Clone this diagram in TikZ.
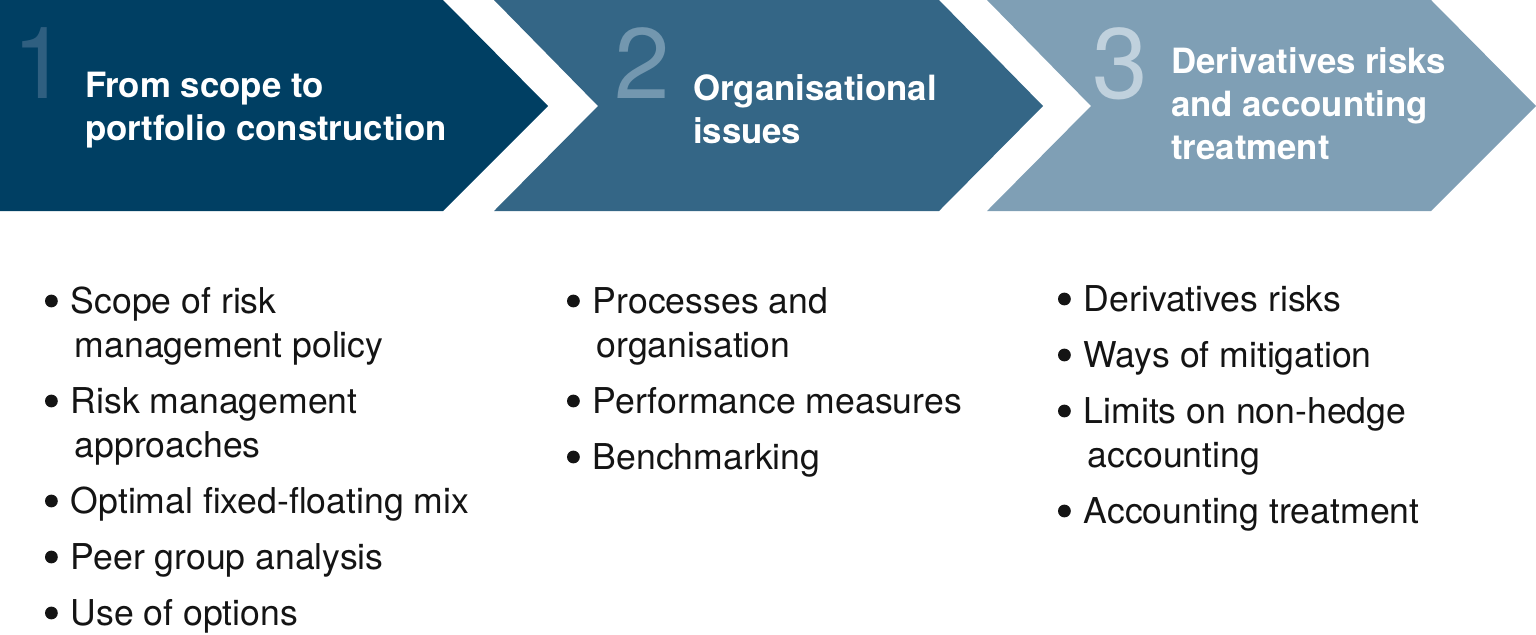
\documentclass[tikz,border=0pt]{standalone}
\usepackage{fontspec}
\setmainfont{TeX Gyre Heros}

\definecolor{stepA}{HTML}{003F63}
\definecolor{stepB}{HTML}{346686}
\definecolor{stepC}{HTML}{7F9FB5}
\definecolor{numA}{HTML}{2F5F80}
\definecolor{numB}{HTML}{7397AF}
\definecolor{numC}{HTML}{C0D1DD}
\definecolor{ink}{HTML}{141414}

\newcommand{\steplines}[1]{\begin{tabular}[t]{@{}l@{}}#1\end{tabular}}
\newcommand{\itemrows}[1]{\begin{tabular}[t]{@{}l@{\hspace{6.5pt}}l@{}}#1\end{tabular}}
\newcommand{\nx}{\hspace{2pt}}
\newcommand{\dotmark}{\tikz[baseline=0pt]\fill[ink] (0,6pt) circle (3.2pt);}

\begin{document}
\begin{tikzpicture}[
  x=0.5pt, y=-0.5pt,
  every node/.style={inner sep=0pt, outer sep=0pt},
  chevA/.style={fill=stepA, draw=none},
  chevB/.style={fill=stepB, draw=none},
  chevC/.style={fill=stepC, draw=none},
  num/.style={anchor=base west, font=\fontsize{50}{50}\selectfont},
  head/.style={anchor=base west, text=white, font=\fontsize{17.4}{21.5}\selectfont\bfseries},
  items/.style={anchor=base west, text=ink, font=\fontsize{17.8}{22}\selectfont}]

  \useasboundingbox (0,0) rectangle (1536,634);

  % ---- chevrons ------------------------------------------------------------
  \fill[chevA] (0,0) -- (443,0) -- (548,106) -- (443,211) -- (0,211) -- cycle;
  \fill[chevB] (494,0) -- (939,0) -- (1043,106) -- (939,211) -- (494,211)
               -- (598,106) -- cycle;
  \fill[chevC] (987,0) -- (1431,0) -- (1536,106) -- (1431,211) -- (987,211)
               -- (1091,106) -- cycle;

  % ---- step numbers and titles ---------------------------------------------
  \node[num, text=numA] (n1) at (12,98)   {1};
  \node[num, text=numB] (n2) at (614,98)  {2};
  \node[num, text=numC] (n3) at (1092,98) {3};

  \node[head] (h1) at (85,97)   {\steplines{From scope to\\portfolio construction}};
  \node[head] (h2) at (693,100) {\steplines{Organisational\\issues}};
  \node[head] (h3) at (1171,73) {\steplines{Derivatives risks\\and accounting\\treatment}};

  % ---- bullet lists --------------------------------------------------------
  \node[items] (l1) at (45,313) {\itemrows{%
    \dotmark & Scope of risk\\
             & \nx management policy\\[6pt]
    \dotmark & Risk management\\
             & \nx approaches\\[6pt]
    \dotmark & Optimal fixed-floating mix\\[6pt]
    \dotmark & Peer group analysis\\[6pt]
    \dotmark & Use of options}};

  \node[items] (l2) at (567,313) {\itemrows{%
    \dotmark & Processes and\\
             & \nx organisation\\[6pt]
    \dotmark & Performance measures\\[6pt]
    \dotmark & Benchmarking}};

  \node[items] (l3) at (1058,311) {\itemrows{%
    \dotmark & Derivatives risks\\[6pt]
    \dotmark & Ways of mitigation\\[6pt]
    \dotmark & Limits on non-hedge\\
             & \nx accounting\\[6pt]
    \dotmark & Accounting treatment}};
\end{tikzpicture}
\end{document}
